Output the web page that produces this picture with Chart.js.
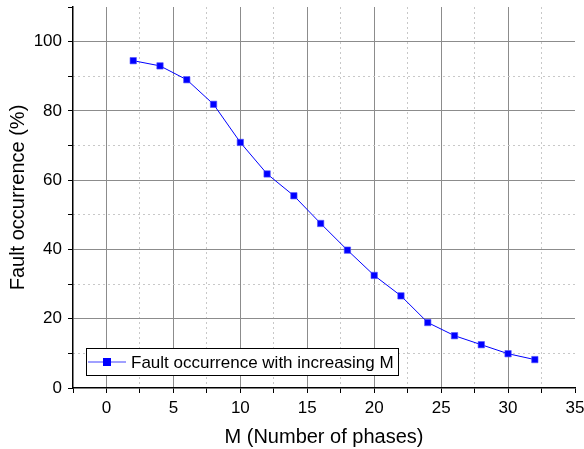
<!DOCTYPE html>
<html>
<head>
<meta charset="utf-8">
<script src="https://cdn.jsdelivr.net/npm/chart.js@4/dist/chart.umd.min.js"></script>
<style>
html,body{margin:0;padding:0;background:#fff;}
#wrap{width:584px;height:449px;position:relative;}
</style>
</head>
<body>
<div id="wrap"><canvas id="c" width="584" height="449"></canvas></div>
<script>
const phases = [2,4,6,8,10,12,14,16,18,20,22,24,26,28,30,32];
const faultOccurrence = [94.5,93.0,89.0,81.9,70.9,61.8,55.5,47.5,39.8,32.5,26.6,18.9,15.1,12.5,9.9,8.2];
const seriesLabel = 'Fault occurrence with increasing M';
const xTicks = [-2.5,0,2.5,5,7.5,10,12.5,15,17.5,20,22.5,25,27.5,30,32.5,35];
const xMajor = [0,5,10,15,20,25,30,35];
const xMinorGrid = [2.5,7.5,12.5,17.5,22.5,27.5,32.5];
const yTicks = [0,10,20,30,40,50,60,70,80,90,100,110];
const yMajor = [0,20,40,60,80,100];
const yMinorGrid = [10,30,50,70,90];

const FONT = "'Liberation Sans', Arial, sans-serif";

const legendPlugin = {
  id: 'insideLegend',
  afterDraw(chart) {
    const ctx = chart.ctx;
    const a = chart.chartArea;
    const x = a.left + 13, y = a.bottom - 40, w = 312, h = 27;
    ctx.save();
    ctx.fillStyle = '#fff';
    ctx.fillRect(x, y, w, h);
    ctx.strokeStyle = '#000';
    ctx.lineWidth = 1;
    ctx.strokeRect(x + 0.5, y + 0.5, w, h);
    const cy = y + h / 2 + 0.5;
    ctx.strokeStyle = '#8080ff';
    ctx.lineWidth = 1.5;
    ctx.beginPath(); ctx.moveTo(x + 2, cy); ctx.lineTo(x + 40, cy); ctx.stroke();
    ctx.fillStyle = '#0000ff';
    ctx.fillRect(x + 17, cy - 4, 8, 8);
    ctx.fillStyle = '#000';
    ctx.font = '17px ' + FONT;
    ctx.textBaseline = 'middle';
    ctx.fillText(chart.data.datasets[0].label, x + 45, cy + 1);
    ctx.restore();
  }
};

new Chart(document.getElementById('c'), {
  type: 'line',
  data: {
    datasets: [{
      label: seriesLabel,
      data: phases.map((p, i) => ({x: p, y: faultOccurrence[i]})),
      borderColor: '#0000ff',
      borderWidth: 1,
      backgroundColor: '#0000ff',
      pointStyle: 'rect',
      pointRadius: 4.5,
      pointBorderWidth: 1,
      pointBorderColor: 'rgba(80,80,255,0.6)',
      pointBackgroundColor: '#0000ff',
      tension: 0
    }]
  },
  options: {
    responsive: false,
    animation: false,
    layout: {padding: {top: 7, right: 9, left: 0, bottom: 0}},
    plugins: {legend: {display: false}, tooltip: {enabled: false}},
    scales: {
      x: {
        type: 'linear', position: 'bottom', min: -2.5, max: 35,
        afterBuildTicks: s => { s.ticks = xTicks.map(v => ({value: v})); },
        afterFit: s => { s.height = 61; s.paddingLeft = 0; s.paddingRight = 0; },
        ticks: {
          autoSkip: false, maxRotation: 0, padding: 5,
          color: '#000', font: {family: FONT, size: 17},
          callback: v => xMajor.includes(v) ? String(v) : ''
        },
        grid: {
          color: c => (c.tick && xMajor.includes(c.tick.value) && c.tick.value !== 35) ? '#8c8c8c' : 'rgba(0,0,0,0)',
          tickColor: '#000', tickLength: 5, lineWidth: 1, drawOnChartArea: true
        },
        border: {display: true, color: '#000', width: 1.5},
        title: {display: true, text: 'M (Number of phases)', color: '#000', font: {family: FONT, size: 20}, padding: {top: 4, bottom: 0}}
      },
      x2: {
        type: 'linear', position: 'bottom', min: -2.5, max: 35, display: true,
        afterBuildTicks: s => { s.ticks = xMinorGrid.map(v => ({value: v})); },
        afterFit: s => { s.paddingLeft = 0; s.paddingRight = 0; },
        ticks: {display: false},
        grid: {color: '#c8c8c8', drawTicks: false, lineWidth: 1},
        border: {display: false, dash: [2, 3]}
      },
      y: {
        type: 'linear', position: 'left', min: 0, max: 110,
        afterBuildTicks: s => { s.ticks = yTicks.map(v => ({value: v})); },
        afterFit: s => { s.width = 73; s.paddingTop = 0; s.paddingBottom = 0; },
        ticks: {
          autoSkip: false, padding: 6,
          color: '#000', font: {family: FONT, size: 17},
          callback: v => yMajor.includes(v) ? String(v) : ''
        },
        grid: {
          color: c => (c.tick && yMajor.includes(c.tick.value) && c.tick.value !== 0) ? '#8c8c8c' : 'rgba(0,0,0,0)',
          tickColor: '#000', tickLength: 5, lineWidth: 1
        },
        border: {display: true, color: '#000', width: 1.5},
        title: {display: true, text: 'Fault occurrence (%)', color: '#000', font: {family: FONT, size: 20}, padding: {top: 6, bottom: 4}}
      },
      y2: {
        type: 'linear', position: 'left', min: 0, max: 110, display: true,
        afterBuildTicks: s => { s.ticks = yMinorGrid.map(v => ({value: v})); },
        afterFit: s => { s.paddingTop = 0; s.paddingBottom = 0; },
        ticks: {display: false},
        grid: {color: '#c8c8c8', drawTicks: false, lineWidth: 1},
        border: {display: false, dash: [2, 3]}
      }
    }
  },
  plugins: [legendPlugin]
});
</script>
</body>
</html>
